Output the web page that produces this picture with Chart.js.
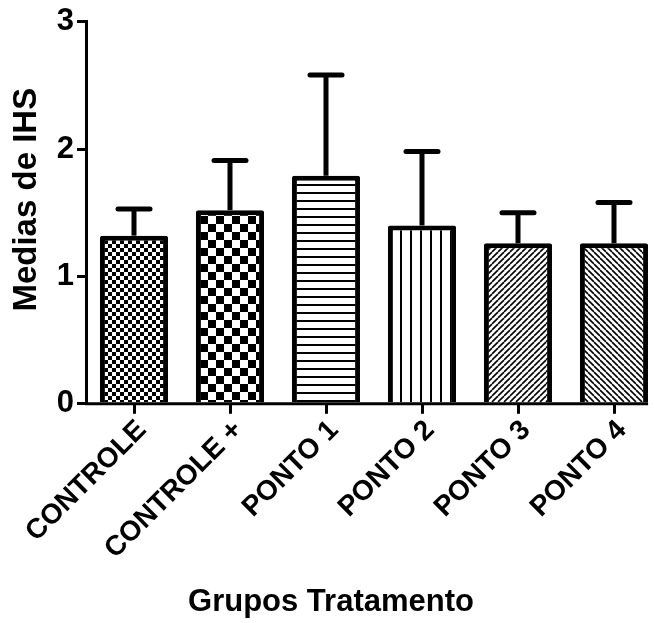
<!DOCTYPE html>
<html>
<head>
<meta charset="utf-8">
<title>Medias de IHS</title>
<script src="https://cdn.jsdelivr.net/npm/chart.js@4"></script>
<style>
  html, body { margin: 0; padding: 0; background: #fff; overflow: hidden; }
  #wrap { width: 654px; height: 623px; overflow: hidden; }
</style>
</head>
<body>
<div id="wrap"><canvas id="barChart" width="662" height="623"></canvas></div>
<script>
    const categories = ['CONTROLE', 'CONTROLE +', 'PONTO 1', 'PONTO 2', 'PONTO 3', 'PONTO 4'];
    const means = [1.32, 1.52, 1.79, 1.40, 1.26, 1.26];
    const sds = [0.21, 0.39, 0.79, 0.58, 0.24, 0.32];
    const yTicks = [0, 1, 2, 3];
    const fills = ['checkFine', 'checkCoarse', 'hLines', 'vLines', 'diagUp', 'diagDown'];

    const boldFont = (size) => ({ family: 'Liberation Sans', size: size, weight: 'bold' });

    // small tiles repeated as bar fills
    function makePattern(kind) {
        const c = document.createElement('canvas');
        let s = 8;
        if (kind === 'checkCoarse') s = 16;
        if (kind === 'vLines') s = 10;
        if (kind === 'diagUp' || kind === 'diagDown') s = 6;
        c.width = s; c.height = s;
        const g = c.getContext('2d');
        g.fillStyle = '#fff';
        g.fillRect(0, 0, s, s);
        g.fillStyle = '#000';
        g.strokeStyle = '#000';
        if (kind === 'checkFine' || kind === 'checkCoarse') {
            const h = s / 2;
            g.fillRect(0, 0, h, h);
            g.fillRect(h, h, h, h);
        } else if (kind === 'hLines') {
            g.fillRect(0, 0, s, 2);
        } else if (kind === 'vLines') {
            g.fillRect(0, 0, 2, s);
        } else {
            g.lineWidth = 1.6;
            for (const k of [-s, 0, s]) {
                g.beginPath();
                if (kind === 'diagUp') {
                    g.moveTo(k, s); g.lineTo(k + s, 0);
                } else {
                    g.moveTo(k, 0); g.lineTo(k + s, s);
                }
                g.stroke();
            }
        }
        return g.createPattern(c, 'repeat');
    }

    // upward-only SD whiskers, the x axis line and the y axis title
    const errorBars = {
        id: 'errorBars',
        afterDatasetsDraw(chart) {
            const ctx = chart.ctx;
            const meta = chart.getDatasetMeta(0);
            const y = chart.scales.y;
            ctx.save();
            ctx.strokeStyle = '#000';
            meta.data.forEach((bar, i) => {
                const top = y.getPixelForValue(means[i] + sds[i]);
                ctx.lineWidth = 5;
                ctx.lineCap = 'butt';
                ctx.beginPath();
                ctx.moveTo(bar.x, bar.y);
                ctx.lineTo(bar.x, top);
                ctx.stroke();
                ctx.lineCap = 'round';
                ctx.beginPath();
                ctx.moveTo(bar.x - 16, top);
                ctx.lineTo(bar.x + 16, top);
                ctx.stroke();
            });
            const last = meta.data[meta.data.length - 1];
            const area = chart.chartArea;
            ctx.lineCap = 'butt';
            ctx.lineWidth = 3;
            ctx.beginPath();
            ctx.moveTo(area.left - 1, area.bottom);
            ctx.lineTo(last.x + last.width / 2, area.bottom);
            ctx.stroke();

            // y title sits a little above the axis middle
            ctx.translate(y.left + 27, (area.top + area.bottom) / 2 - 13);
            ctx.rotate(-Math.PI / 2);
            ctx.fillStyle = '#000';
            ctx.font = 'bold 33px "Liberation Sans"';
            ctx.textAlign = 'center';
            ctx.textBaseline = 'middle';
            ctx.fillText('Medias de IHS', 0, 0);
            ctx.restore();
        }
    };

    const ctx = document.getElementById('barChart').getContext('2d');
    const barChart = new Chart(ctx, {
        type: 'bar',
        data: {
            labels: categories,
            datasets: [{
                data: means,
                backgroundColor: fills.map(makePattern),
                borderColor: '#000',
                borderWidth: 5,
                borderRadius: 2,
                categoryPercentage: 1,
                barPercentage: 0.71
            }]
        },
        plugins: [errorBars],
        options: {
            responsive: false,
            animation: false,
            layout: { padding: { left: 0, top: 20, right: 0, bottom: 0 } },
            plugins: {
                legend: { display: false },
                tooltip: { enabled: false },
                title: {
                    display: true,
                    position: 'bottom',
                    text: 'Grupos Tratamento',
                    color: '#000',
                    font: boldFont(31),
                    padding: { top: 0, bottom: 2 }
                }
            },
            scales: {
                x: {
                    afterFit(scale) { scale.height = 180; },
                    grid: { display: true, offset: false, drawOnChartArea: false, drawTicks: true, tickLength: 10, lineWidth: 3, color: '#000' },
                    border: { display: false },
                    ticks: {
                        color: '#000',
                        maxRotation: 45,
                        minRotation: 45,
                        labelOffset: 8,
                        padding: 0,
                        font: boldFont(28)
                    }
                },
                y: {
                    min: 0,
                    max: 3,
                    afterFit(scale) { scale.width = 86; },
                    afterBuildTicks(scale) { scale.ticks = yTicks.map(v => ({ value: v })); },
                    grid: { display: true, drawOnChartArea: false, drawTicks: true, tickLength: 9, lineWidth: 3, color: '#000' },
                    border: { display: true, width: 3, color: '#000' },
                    ticks: {
                        color: '#000',
                        padding: 3,
                        font: boldFont(31)
                    }
                }
            }
        }
    });
</script>
</body>
</html>
